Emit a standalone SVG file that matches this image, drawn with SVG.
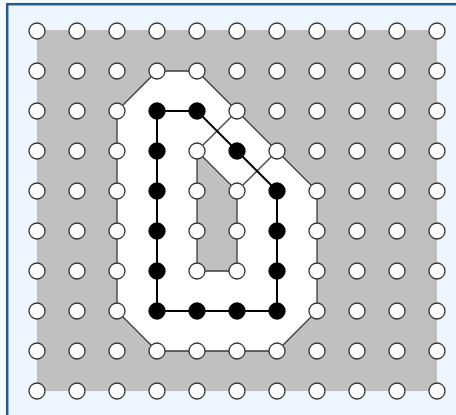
<svg xmlns="http://www.w3.org/2000/svg" width="456" height="415" viewBox="0 0 456 415">
<style>
.w{fill:#fff;stroke:#333;stroke-width:1.3}
.b{fill:#000;stroke:#000;stroke-width:1.3}
.ln{stroke:#3a3a3a;stroke-width:1.3;fill:none}
.bl{stroke:#000;stroke-width:2;fill:none}
</style>
<rect x="0" y="0" width="456" height="415" fill="#f5faff"/>
<rect x="7.2" y="4.2" width="470" height="430" fill="#edf6fe" stroke="#27598a" stroke-width="2.5"/>
<g transform="translate(-0.5,-0.5)">
<rect x="37.5" y="30.5" width="400" height="361" fill="#c0c0c0"/>
<polygon points="117.5,111.5 157.5,71.5 197.5,71.5 237.5,111.5 277.5,151.5 317.5,191.5 317.5,311.5 277.5,351.5 157.5,351.5 117.5,311.5" fill="#fff"/>
<polygon points="197.5,151.5 237.5,191.5 237.5,271.5 197.5,271.5" fill="#c0c0c0"/>
<g id="connectors">
<polygon class="ln" points="117.5,111.5 157.5,71.5 197.5,71.5 237.5,111.5 277.5,151.5 317.5,191.5 317.5,311.5 277.5,351.5 157.5,351.5 117.5,311.5"/>
<polygon class="ln" points="197.5,151.5 237.5,191.5 237.5,271.5 197.5,271.5"/>
<line class="ln" x1="197.5" y1="151.5" x2="237.5" y2="111.5"/>
<line class="ln" x1="237.5" y1="191.5" x2="277.5" y2="151.5"/>
<polygon class="bl" points="157.5,111.5 197.5,111.5 237.5,151.5 277.5,191.5 277.5,311.5 157.5,311.5"/>
</g>
<g id="n0_0"><circle class="w" cx="37.5" cy="31.5" r="8"/></g>
<g id="n1_0"><circle class="w" cx="77.5" cy="31.5" r="8"/></g>
<g id="n2_0"><circle class="w" cx="117.5" cy="31.5" r="8"/></g>
<g id="n3_0"><circle class="w" cx="157.5" cy="31.5" r="8"/></g>
<g id="n4_0"><circle class="w" cx="197.5" cy="31.5" r="8"/></g>
<g id="n5_0"><circle class="w" cx="237.5" cy="31.5" r="8"/></g>
<g id="n6_0"><circle class="w" cx="277.5" cy="31.5" r="8"/></g>
<g id="n7_0"><circle class="w" cx="317.5" cy="31.5" r="8"/></g>
<g id="n8_0"><circle class="w" cx="357.5" cy="31.5" r="8"/></g>
<g id="n9_0"><circle class="w" cx="397.5" cy="31.5" r="8"/></g>
<g id="n10_0"><circle class="w" cx="437.5" cy="31.5" r="8"/></g>
<g id="n0_1"><circle class="w" cx="37.5" cy="71.5" r="8"/></g>
<g id="n1_1"><circle class="w" cx="77.5" cy="71.5" r="8"/></g>
<g id="n2_1"><circle class="w" cx="117.5" cy="71.5" r="8"/></g>
<g id="n3_1"><circle class="w" cx="157.5" cy="71.5" r="8"/></g>
<g id="n4_1"><circle class="w" cx="197.5" cy="71.5" r="8"/></g>
<g id="n5_1"><circle class="w" cx="237.5" cy="71.5" r="8"/></g>
<g id="n6_1"><circle class="w" cx="277.5" cy="71.5" r="8"/></g>
<g id="n7_1"><circle class="w" cx="317.5" cy="71.5" r="8"/></g>
<g id="n8_1"><circle class="w" cx="357.5" cy="71.5" r="8"/></g>
<g id="n9_1"><circle class="w" cx="397.5" cy="71.5" r="8"/></g>
<g id="n10_1"><circle class="w" cx="437.5" cy="71.5" r="8"/></g>
<g id="n0_2"><circle class="w" cx="37.5" cy="111.5" r="8"/></g>
<g id="n1_2"><circle class="w" cx="77.5" cy="111.5" r="8"/></g>
<g id="n2_2"><circle class="w" cx="117.5" cy="111.5" r="8"/></g>
<g id="n3_2"><circle class="b" cx="157.5" cy="111.5" r="8"/></g>
<g id="n4_2"><circle class="b" cx="197.5" cy="111.5" r="8"/></g>
<g id="n5_2"><circle class="w" cx="237.5" cy="111.5" r="8"/></g>
<g id="n6_2"><circle class="w" cx="277.5" cy="111.5" r="8"/></g>
<g id="n7_2"><circle class="w" cx="317.5" cy="111.5" r="8"/></g>
<g id="n8_2"><circle class="w" cx="357.5" cy="111.5" r="8"/></g>
<g id="n9_2"><circle class="w" cx="397.5" cy="111.5" r="8"/></g>
<g id="n10_2"><circle class="w" cx="437.5" cy="111.5" r="8"/></g>
<g id="n0_3"><circle class="w" cx="37.5" cy="151.5" r="8"/></g>
<g id="n1_3"><circle class="w" cx="77.5" cy="151.5" r="8"/></g>
<g id="n2_3"><circle class="w" cx="117.5" cy="151.5" r="8"/></g>
<g id="n3_3"><circle class="b" cx="157.5" cy="151.5" r="8"/></g>
<g id="n4_3"><circle class="w" cx="197.5" cy="151.5" r="8"/></g>
<g id="n5_3"><circle class="b" cx="237.5" cy="151.5" r="8"/></g>
<g id="n6_3"><circle class="w" cx="277.5" cy="151.5" r="8"/></g>
<g id="n7_3"><circle class="w" cx="317.5" cy="151.5" r="8"/></g>
<g id="n8_3"><circle class="w" cx="357.5" cy="151.5" r="8"/></g>
<g id="n9_3"><circle class="w" cx="397.5" cy="151.5" r="8"/></g>
<g id="n10_3"><circle class="w" cx="437.5" cy="151.5" r="8"/></g>
<g id="n0_4"><circle class="w" cx="37.5" cy="191.5" r="8"/></g>
<g id="n1_4"><circle class="w" cx="77.5" cy="191.5" r="8"/></g>
<g id="n2_4"><circle class="w" cx="117.5" cy="191.5" r="8"/></g>
<g id="n3_4"><circle class="b" cx="157.5" cy="191.5" r="8"/></g>
<g id="n4_4"><circle class="w" cx="197.5" cy="191.5" r="8"/></g>
<g id="n5_4"><circle class="w" cx="237.5" cy="191.5" r="8"/></g>
<g id="n6_4"><circle class="b" cx="277.5" cy="191.5" r="8"/></g>
<g id="n7_4"><circle class="w" cx="317.5" cy="191.5" r="8"/></g>
<g id="n8_4"><circle class="w" cx="357.5" cy="191.5" r="8"/></g>
<g id="n9_4"><circle class="w" cx="397.5" cy="191.5" r="8"/></g>
<g id="n10_4"><circle class="w" cx="437.5" cy="191.5" r="8"/></g>
<g id="n0_5"><circle class="w" cx="37.5" cy="231.5" r="8"/></g>
<g id="n1_5"><circle class="w" cx="77.5" cy="231.5" r="8"/></g>
<g id="n2_5"><circle class="w" cx="117.5" cy="231.5" r="8"/></g>
<g id="n3_5"><circle class="b" cx="157.5" cy="231.5" r="8"/></g>
<g id="n4_5"><circle class="w" cx="197.5" cy="231.5" r="8"/></g>
<g id="n5_5"><circle class="w" cx="237.5" cy="231.5" r="8"/></g>
<g id="n6_5"><circle class="b" cx="277.5" cy="231.5" r="8"/></g>
<g id="n7_5"><circle class="w" cx="317.5" cy="231.5" r="8"/></g>
<g id="n8_5"><circle class="w" cx="357.5" cy="231.5" r="8"/></g>
<g id="n9_5"><circle class="w" cx="397.5" cy="231.5" r="8"/></g>
<g id="n10_5"><circle class="w" cx="437.5" cy="231.5" r="8"/></g>
<g id="n0_6"><circle class="w" cx="37.5" cy="271.5" r="8"/></g>
<g id="n1_6"><circle class="w" cx="77.5" cy="271.5" r="8"/></g>
<g id="n2_6"><circle class="w" cx="117.5" cy="271.5" r="8"/></g>
<g id="n3_6"><circle class="b" cx="157.5" cy="271.5" r="8"/></g>
<g id="n4_6"><circle class="w" cx="197.5" cy="271.5" r="8"/></g>
<g id="n5_6"><circle class="w" cx="237.5" cy="271.5" r="8"/></g>
<g id="n6_6"><circle class="b" cx="277.5" cy="271.5" r="8"/></g>
<g id="n7_6"><circle class="w" cx="317.5" cy="271.5" r="8"/></g>
<g id="n8_6"><circle class="w" cx="357.5" cy="271.5" r="8"/></g>
<g id="n9_6"><circle class="w" cx="397.5" cy="271.5" r="8"/></g>
<g id="n10_6"><circle class="w" cx="437.5" cy="271.5" r="8"/></g>
<g id="n0_7"><circle class="w" cx="37.5" cy="311.5" r="8"/></g>
<g id="n1_7"><circle class="w" cx="77.5" cy="311.5" r="8"/></g>
<g id="n2_7"><circle class="w" cx="117.5" cy="311.5" r="8"/></g>
<g id="n3_7"><circle class="b" cx="157.5" cy="311.5" r="8"/></g>
<g id="n4_7"><circle class="b" cx="197.5" cy="311.5" r="8"/></g>
<g id="n5_7"><circle class="b" cx="237.5" cy="311.5" r="8"/></g>
<g id="n6_7"><circle class="b" cx="277.5" cy="311.5" r="8"/></g>
<g id="n7_7"><circle class="w" cx="317.5" cy="311.5" r="8"/></g>
<g id="n8_7"><circle class="w" cx="357.5" cy="311.5" r="8"/></g>
<g id="n9_7"><circle class="w" cx="397.5" cy="311.5" r="8"/></g>
<g id="n10_7"><circle class="w" cx="437.5" cy="311.5" r="8"/></g>
<g id="n0_8"><circle class="w" cx="37.5" cy="351.5" r="8"/></g>
<g id="n1_8"><circle class="w" cx="77.5" cy="351.5" r="8"/></g>
<g id="n2_8"><circle class="w" cx="117.5" cy="351.5" r="8"/></g>
<g id="n3_8"><circle class="w" cx="157.5" cy="351.5" r="8"/></g>
<g id="n4_8"><circle class="w" cx="197.5" cy="351.5" r="8"/></g>
<g id="n5_8"><circle class="w" cx="237.5" cy="351.5" r="8"/></g>
<g id="n6_8"><circle class="w" cx="277.5" cy="351.5" r="8"/></g>
<g id="n7_8"><circle class="w" cx="317.5" cy="351.5" r="8"/></g>
<g id="n8_8"><circle class="w" cx="357.5" cy="351.5" r="8"/></g>
<g id="n9_8"><circle class="w" cx="397.5" cy="351.5" r="8"/></g>
<g id="n10_8"><circle class="w" cx="437.5" cy="351.5" r="8"/></g>
<g id="n0_9"><circle class="w" cx="37.5" cy="391.5" r="8"/></g>
<g id="n1_9"><circle class="w" cx="77.5" cy="391.5" r="8"/></g>
<g id="n2_9"><circle class="w" cx="117.5" cy="391.5" r="8"/></g>
<g id="n3_9"><circle class="w" cx="157.5" cy="391.5" r="8"/></g>
<g id="n4_9"><circle class="w" cx="197.5" cy="391.5" r="8"/></g>
<g id="n5_9"><circle class="w" cx="237.5" cy="391.5" r="8"/></g>
<g id="n6_9"><circle class="w" cx="277.5" cy="391.5" r="8"/></g>
<g id="n7_9"><circle class="w" cx="317.5" cy="391.5" r="8"/></g>
<g id="n8_9"><circle class="w" cx="357.5" cy="391.5" r="8"/></g>
<g id="n9_9"><circle class="w" cx="397.5" cy="391.5" r="8"/></g>
<g id="n10_9"><circle class="w" cx="437.5" cy="391.5" r="8"/></g>
</g>
</svg>
